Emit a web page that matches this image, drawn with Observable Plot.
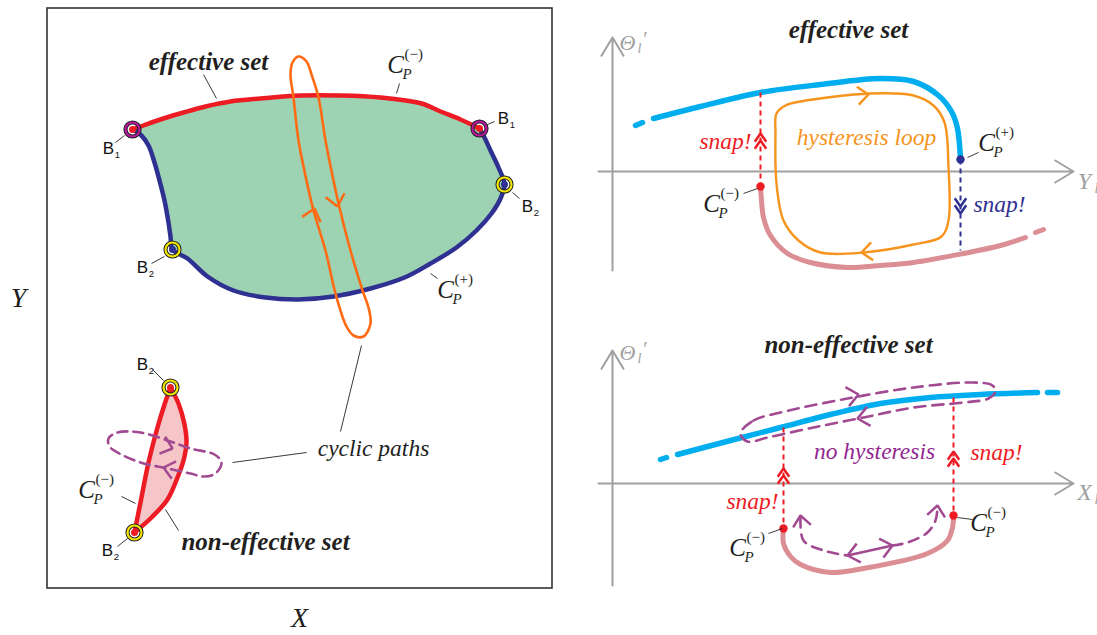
<!DOCTYPE html>
<html><head><meta charset="utf-8">
<script src="https://cdn.jsdelivr.net/npm/d3@7"></script>
<script src="https://cdn.jsdelivr.net/npm/@observablehq/plot@0.6"></script>
<style>body{margin:0;background:#fff;overflow:hidden}</style>
</head><body><div id="chart"></div>
<script>
// ---------- colours ----------
const RED = "#ed1c24", NAVY = "#2e3192", GREEN = "#9dd3b2", ORANGE_L = "#ff6a13", ORANGE_R = "#f7941d";
const PURPLE = "#a24a91", CYAN = "#00aeef", PINK = "#dc8e95", GRAY = "#a0a0a0", INK = "#231f20";

// ---------- left panel ----------
const frame = [{x1: 47, y1: 8, x2: 552, y2: 588}];
const effTop = [{x:132,y:129},{x:143,y:125},{x:163,y:118},{x:183,y:112},{x:205,y:106},{x:230,y:101},{x:260,y:98},{x:300,y:95},{x:340,y:95},{x:380,y:97},{x:421,y:103},{x:440,y:111},{x:460,y:119},{x:479,y:128}];
const effBottom = [{x:479,y:128},{x:484,y:137},{x:490,y:150},{x:498,y:167},{x:504,y:184},{x:500,y:198},{x:491,y:213},{x:476,y:230},{x:456,y:247},{x:430,y:263},{x:404,y:277},{x:370,y:288},{x:333,y:296},{x:298,y:299},{x:265,y:297},{x:233,y:290},{x:207,y:276},{x:187,y:258},{x:172,y:249},{x:170,y:236},{x:168,y:222},{x:164,y:200},{x:159,y:180},{x:154,y:162},{x:148,y:145},{x:140,y:134},{x:132,y:129}];
const cyclicLoop = [{x:298,y:56},{x:306,y:61},{x:311,y:74},{x:318,y:97},{x:325,y:140},{x:333,y:180},{x:339,y:207},{x:350,y:250},{x:362,y:290},{x:368,y:307},{x:370,y:323},{x:363,y:336},{x:353,y:335},{x:346,y:326},{x:335,y:293},{x:325,y:250},{x:313,y:210},{x:306,y:180},{x:298,y:140},{x:293,y:97},{x:290,y:74},{x:292,y:62}];
const lensLeft = [{x:134,y:532},{x:140,y:502},{x:148,y:462},{x:157,y:427},{x:164,y:404},{x:170,y:387}];
const lensRight = [{x:170,y:387},{x:178,y:403},{x:184,y:424},{x:186,y:442},{x:183,y:460},{x:177,y:477},{x:167,y:499},{x:151,y:517},{x:134,y:532}];
const lensLoop = [{x:108,y:438},{x:117,y:432},{x:140,y:432},{x:170,y:441},{x:190,y:448},{x:214,y:454},{x:221,y:462},{x:215,y:473},{x:203,y:476},{x:190,y:473},{x:167,y:468},{x:140,y:462},{x:117,y:452},{x:109,y:446}];
const bPoints = [
  {x:132,y:129,ring:"#b5179e"},{x:479,y:128,ring:"#b5179e"},
  {x:504,y:184,ring:"#f2e600"},{x:172,y:249,ring:"#f2e600"},
  {x:170,y:387,ring:"#f2e600"},{x:134,y:532,ring:"#f2e600"}
];
const bCore = [{x:132,y:129,c:RED},{x:479,y:128,c:RED},{x:504,y:184,c:NAVY},{x:172,y:249,c:NAVY},{x:170,y:387,c:RED},{x:134,y:532,c:RED}];
const bLabels = [
  {x:108,y:148,sub:"1"},{x:503,y:118,sub:"1"},{x:527,y:206,sub:"2"},
  {x:142,y:267,sub:"2"},{x:142,y:364,sub:"2"},{x:107,y:550,sub:"2"}
];

// ---------- right panels ----------
const axesLines = [
  {x1:612,y1:270,x2:612,y2:37},{x1:598,y1:171,x2:1073,y2:171},
  {x1:612,y1:585,x2:612,y2:350},{x1:598,y1:483,x2:1073,y2:483}
];
const blueTopDash = [{x:635,y:125},{x:642,y:122}];
const blueTop = [{x:653,y:118},{x:700,y:106},{x:760,y:92},{x:820,y:84},{x:880,y:78},{x:913,y:81},{x:938,y:95},{x:951,y:111},{x:957,y:128},{x:960,y:159}];
const pinkTop = [{x:760,y:186},{x:761,y:200},{x:763,y:217},{x:770,y:235},{x:787,y:253},{x:810,y:262},{x:847,y:267},{x:880,y:265},{x:913,y:262},{x:963,y:253},{x:1000,y:245},{x:1025,y:237}];
const pinkTopDash = [{x:1035,y:232},{x:1043,y:229}];
const hysteresisLoop = [{x:776,y:113},{x:785,y:105},{x:800,y:101},{x:870,y:93},{x:913,y:95},{x:933,y:105},{x:944,y:122},{x:948,y:167},{x:948,y:220},{x:941,y:236},{x:913,y:244},{x:863,y:252},{x:820,y:252},{x:798,y:240},{x:783,y:220},{x:776,y:183},{x:775,y:133}];
const blueBotDash = [{x:660,y:459},{x:666,y:457}];
const blueBot = [{x:677,y:454},{x:730,y:440},{x:780,y:427},{x:830,y:414},{x:880,y:403},{x:930,y:397},{x:980,y:394},{x:1037,y:392}];
const blueBotDash2 = [{x:1047,y:392},{x:1057,y:392}];
const purpleLoop = [{x:740,y:433},{x:753,y:420},{x:780,y:412},{x:847,y:398},{x:913,y:387},{x:973,y:382},{x:992,y:385},{x:995,y:391},{x:988,y:398},{x:963,y:402},{x:913,y:407},{x:863,y:417},{x:813,y:427},{x:767,y:437},{x:747,y:441}];
const pinkBot = [{x:783,y:528},{x:783,y:543},{x:790,y:556},{x:800,y:564},{x:830,y:572},{x:863,y:568},{x:927,y:553},{x:947,y:540},{x:952,y:527},{x:953,y:515}];
const purplePath = [{x:800,y:517},{x:803,y:540},{x:823,y:550},{x:847,y:555}];
const purplePath2 = [{x:892,y:545},{x:907,y:542},{x:927,y:532},{x:935,y:520},{x:937,y:507}];
const purpleShaft = [{x1:847,y1:555,x2:892,y2:545}];
const snapLines = [
  {x1:760,y1:92,x2:760,y2:186,c:RED},{x1:960,y1:159,x2:960,y2:250,c:NAVY},
  {x1:783,y1:427,x2:783,y2:528,c:RED},{x1:953,y1:397,x2:953,y2:515,c:RED}
];
const endPoints = [{x:960,y:159,c:NAVY},{x:760,y:186,c:RED},{x:783,y:528,c:RED},{x:953,y:515,c:RED}];

// ---------- arrowheads: from (x1,y1) towards the tip (x2,y2); arm length L, half-angle a ----------
const pathArrows = [
  {x1:310,y1:222,x2:314,y2:208,c:ORANGE_L,L:15,a:40},{x1:334,y1:192,x2:337,y2:206,c:ORANGE_L,L:15,a:40},
  {x1:157,y1:443,x2:172,y2:448,c:PURPLE,L:14,a:40},{x1:179,y1:471,x2:163,y2:467,c:PURPLE,L:14,a:40},
  {x1:850,y1:96,x2:868,y2:94,c:ORANGE_R,L:14,a:40},{x1:878,y1:250,x2:861,y2:252,c:ORANGE_R,L:14,a:40},
  {x1:842,y1:397,x2:858,y2:394,c:PURPLE,L:15,a:40},{x1:873,y1:415,x2:857,y2:418,c:PURPLE,L:15,a:40},
  {x1:802,y1:529,x2:800,y2:515,c:PURPLE,L:14,a:40},{x1:935,y1:520,x2:937,y2:505,c:PURPLE,L:14,a:40},
  {x1:870,y1:550,x2:847,y2:555,c:PURPLE,L:15,a:40},{x1:870,y1:550,x2:892,y2:545,c:PURPLE,L:15,a:40},
  {x1:760,y1:152,x2:760,y2:133,c:RED,L:10,a:35},{x1:760,y1:152,x2:760,y2:140,c:RED,L:10,a:35},
  {x1:960,y1:192,x2:960,y2:213,c:NAVY,L:10,a:35},{x1:960,y1:192,x2:960,y2:206,c:NAVY,L:10,a:35},
  {x1:783,y1:488,x2:783,y2:468,c:RED,L:10,a:35},{x1:783,y1:488,x2:783,y2:475,c:RED,L:10,a:35},
  {x1:953,y1:470,x2:953,y2:451,c:RED,L:10,a:35},{x1:953,y1:470,x2:953,y2:458,c:RED,L:10,a:35}
];
const chevrons = pathArrows.flatMap((d, i) => {
  const t = Math.atan2(d.y2 - d.y1, d.x2 - d.x1), a = d.a * Math.PI / 180;
  const arm = s => ({x: d.x2 - d.L * Math.cos(t + s * a), y: d.y2 - d.L * Math.sin(t + s * a), id: i, c: d.c});
  return [arm(1), {x: d.x2, y: d.y2, id: i, c: d.c}, arm(-1)];
});

// ---------- leaders ----------
const leaders = [
  {x1:115,y1:142,x2:124,y2:135},{x1:487,y1:124,x2:494,y2:121},{x1:512,y1:192,x2:519,y2:198},
  {x1:151,y1:263,x2:164,y2:256},{x1:152,y1:369,x2:163,y2:380},{x1:117,y1:546,x2:127,y2:538},
  {x1:203,y1:74,x2:216,y2:98},{x1:399,y1:83,x2:396,y2:93},{x1:430,y1:273,x2:437,y2:278},
  {x1:121,y1:496,x2:135,y2:503},{x1:165,y1:509,x2:178,y2:530},
  {x1:232,y1:462,x2:306,y2:452},{x1:361,y1:345,x2:340,y2:431},
  {x1:967,y1:157,x2:978,y2:152},{x1:743,y1:193,x2:757,y2:188},
  {x1:957,y1:517,x2:972,y2:519},{x1:768,y1:533,x2:782,y2:528}
];

// ---------- texts ----------
const titles = [
  {x:208,y:61,text:"effective set"},{x:265,y:541,text:"non-effective set"},
  {x:848,y:29,text:"effective set"},{x:848,y:344,text:"non-effective set"}
];
const notes = [
  {x:373,y:448,text:"cyclic paths",c:INK},
  {x:725,y:141,text:"snap!",c:RED},{x:999,y:204,text:"snap!",c:NAVY},
  {x:866,y:137,text:"hysteresis loop",c:ORANGE_R},
  {x:874,y:451,text:"no hysteresis",c:"#93278f"},
  {x:996,y:452,text:"snap!",c:RED},{x:752,y:501,text:"snap!",c:RED}
];
const axisNames = [{x:18,y:298,text:"Y"},{x:299,y:618,text:"X"}];
const cLabels = [
  {x:395,y:64,sign:"(−)"},{x:445,y:289,sign:"(+)"},{x:86,y:489,sign:"(−)"},
  {x:986,y:142,sign:"(+)"},{x:711,y:203,sign:"(−)"},
  {x:978,y:522,sign:"(−)"},{x:737,y:547,sign:"(−)"}
];
const thetaLabels = [{x:627,y:42},{x:627,y:352}];
const varLabels = [{x:1084,y:181,text:"Y"},{x:1084,y:492,text:"X"}];

const SERIF = "'Liberation Serif', 'DejaVu Serif', serif";
const SANS = "'Liberation Sans', Arial, sans-serif";
const cr = "catmull-rom";

const chart = Plot.plot({
  width: 1097, height: 635, margin: 0,
  x: {domain: [0, 1097], range: [0, 1097], axis: null},
  y: {domain: [0, 635], range: [0, 635], axis: null},
  color: {type: "identity"},
  style: {background: "#fff", overflow: "visible"},
  marks: [
    Plot.rect(frame, {x1: "x1", y1: "y1", x2: "x2", y2: "y2", fill: "none", stroke: "#333", strokeWidth: 1.6}),
    // effective set region
    Plot.line(effTop.concat(effBottom.slice(1, -1)), {x: "x", y: "y", curve: "catmull-rom-closed", fill: GREEN, stroke: "none"}),
    Plot.line(effTop, {x: "x", y: "y", curve: cr, stroke: RED, strokeWidth: 4.5}),
    Plot.line(effBottom, {x: "x", y: "y", curve: cr, stroke: NAVY, strokeWidth: 4.5}),
    Plot.line(cyclicLoop, {x: "x", y: "y", curve: "catmull-rom-closed", stroke: ORANGE_L, strokeWidth: 2.6}),
    // non-effective lens
    Plot.line(lensLeft.concat(lensRight.slice(1, -1)), {x: "x", y: "y", curve: "catmull-rom-closed", fill: "#f5c5c7", stroke: "none"}),
    Plot.line(lensLeft, {x: "x", y: "y", curve: cr, stroke: RED, strokeWidth: 4.5}),
    Plot.line(lensRight, {x: "x", y: "y", curve: cr, stroke: RED, strokeWidth: 4.5}),
    Plot.line(lensLoop, {x: "x", y: "y", curve: "catmull-rom-closed", stroke: PURPLE, strokeWidth: 2.6, strokeDasharray: "10,6"}),
    Plot.dot(bCore, {x: "x", y: "y", r: 3.5, fill: "c", stroke: "none"}),
    Plot.dot(bPoints, {x: "x", y: "y", r: 7, stroke: "#222", strokeWidth: 4.2, fill: "none"}),
    Plot.dot(bPoints, {x: "x", y: "y", r: 7, stroke: "ring", strokeWidth: 2.2, fill: "none"}),
    // right panels
    Plot.arrow(axesLines, {x1: "x1", y1: "y1", x2: "x2", y2: "y2", stroke: GRAY, strokeWidth: 2, headLength: 16, headAngle: 62, bend: false}),
    Plot.line(blueTopDash, {x: "x", y: "y", stroke: CYAN, strokeWidth: 5.5, strokeLinecap: "round"}),
    Plot.line(blueTop, {x: "x", y: "y", curve: cr, stroke: CYAN, strokeWidth: 5.5, strokeLinecap: "round"}),
    Plot.line(pinkTop, {x: "x", y: "y", curve: cr, stroke: PINK, strokeWidth: 5, strokeLinecap: "round"}),
    Plot.line(pinkTopDash, {x: "x", y: "y", stroke: PINK, strokeWidth: 5, strokeLinecap: "round"}),
    Plot.line(hysteresisLoop, {x: "x", y: "y", curve: "catmull-rom-closed", stroke: ORANGE_R, strokeWidth: 2.4}),
    Plot.line(blueBotDash, {x: "x", y: "y", stroke: CYAN, strokeWidth: 5.5, strokeLinecap: "round"}),
    Plot.line(blueBot, {x: "x", y: "y", curve: cr, stroke: CYAN, strokeWidth: 5.5, strokeLinecap: "round"}),
    Plot.line(blueBotDash2, {x: "x", y: "y", stroke: CYAN, strokeWidth: 5.5, strokeLinecap: "round"}),
    Plot.line(purpleLoop, {x: "x", y: "y", curve: "catmull-rom-closed", stroke: PURPLE, strokeWidth: 2.6, strokeDasharray: "11,7"}),
    Plot.line(pinkBot, {x: "x", y: "y", curve: cr, stroke: PINK, strokeWidth: 5, strokeLinecap: "round"}),
    Plot.line(purplePath, {x: "x", y: "y", curve: cr, stroke: PURPLE, strokeWidth: 2.6, strokeDasharray: "10,7"}),
    Plot.line(purplePath2, {x: "x", y: "y", curve: cr, stroke: PURPLE, strokeWidth: 2.6, strokeDasharray: "10,7"}),
    Plot.link(purpleShaft, {x1: "x1", y1: "y1", x2: "x2", y2: "y2", stroke: PURPLE, strokeWidth: 2.6}),
    Plot.link(snapLines, {x1: "x1", y1: "y1", x2: "x2", y2: "y2", stroke: "c", strokeWidth: 2, strokeDasharray: "5,4"}),
    Plot.dot(endPoints, {x: "x", y: "y", r: 4.2, fill: "c", stroke: "none"}),
    Plot.line(chevrons, {x: "x", y: "y", z: "id", stroke: "c", strokeWidth: 2.5, strokeLinejoin: "miter", strokeLinecap: "butt"}),
    Plot.link(leaders, {x1: "x1", y1: "y1", x2: "x2", y2: "y2", stroke: "#222", strokeWidth: 0.9}),
    // texts
    Plot.text(titles, {x: "x", y: "y", text: "text", fontFamily: SERIF, fontStyle: "italic", fontWeight: "bold", fontSize: 25, fill: INK}),
    Plot.text(notes, {x: "x", y: "y", text: "text", fontFamily: SERIF, fontStyle: "italic", fontSize: 23.5, fill: "c"}),
    Plot.text(axisNames, {x: "x", y: "y", text: "text", fontFamily: SERIF, fontStyle: "italic", fontSize: 28, fill: INK}),
    Plot.text(cLabels, {x: "x", y: "y", text: () => "C", fontFamily: SERIF, fontStyle: "italic", fontSize: 25, fill: INK}),
    Plot.text(cLabels, {x: "x", y: "y", text: () => "P", dx: 7, dy: 10, textAnchor: "start", fontFamily: SERIF, fontStyle: "italic", fontSize: 15, fill: INK}),
    Plot.text(cLabels, {x: "x", y: "y", text: "sign", dx: 9, dy: -10, textAnchor: "start", fontFamily: SERIF, fontSize: 15, fill: INK}),
    Plot.text(bLabels, {x: "x", y: "y", text: () => "B", fontFamily: SANS, fontSize: 17, fill: "#111"}),
    Plot.text(bLabels, {x: "x", y: "y", text: "sub", dx: 9, dy: 6, fontFamily: SANS, fontSize: 9.5, fill: "#111"}),
    Plot.text(thetaLabels, {x: "x", y: "y", text: () => "Θ", fontFamily: SERIF, fontStyle: "italic", fontSize: 22, fill: GRAY}),
    Plot.text(thetaLabels, {x: "x", y: "y", text: () => "l", dx: 12, dy: 6, fontFamily: SERIF, fontStyle: "italic", fontSize: 14, fill: GRAY}),
    Plot.text(thetaLabels, {x: "x", y: "y", text: () => "′", dx: 18, dy: -3, fontFamily: SERIF, fontSize: 20, fill: GRAY}),
    Plot.text(varLabels, {x: "x", y: "y", text: "text", fontFamily: SERIF, fontStyle: "italic", fontSize: 24, fill: GRAY}),
    Plot.text(varLabels, {x: "x", y: "y", text: () => "l", dx: 12, dy: 7, fontFamily: SERIF, fontStyle: "italic", fontSize: 14, fill: GRAY})
  ]
});
document.getElementById("chart").appendChild(chart);
</script></body></html>
